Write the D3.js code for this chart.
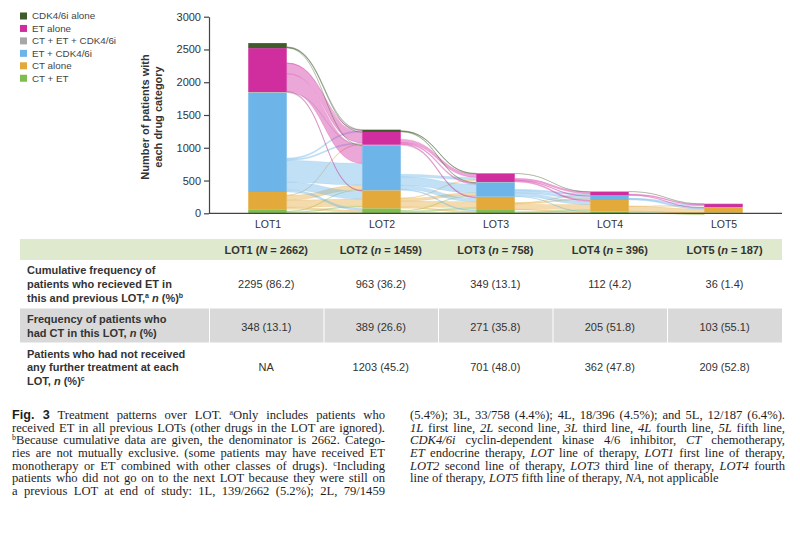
<!DOCTYPE html>
<html>
<head>
<meta charset="utf-8">
<script src="https://cdn.jsdelivr.net/npm/d3@7"></script>
<style>
  body { margin: 0; background: #fff; }
  #wrap { position: relative; width: 800px; height: 533px; overflow: hidden; }
  svg { position: absolute; left: 0; top: 0; }
  .cap { position: absolute; font-family: "Liberation Serif", "DejaVu Serif", serif; font-size: 12.6px;
         line-height: 12.55px; color: #1e1e1e; text-align: justify; text-align-last: justify; white-space: normal; }
  .cap.last { text-align-last: left; }
  .cap sup { font-size: 8px; vertical-align: baseline; position: relative; top: -4px; }
  .cap b { font-family: "Liberation Sans", Arial, sans-serif; }
</style>
</head>
<body>
<div id="wrap"></div>
<script>
// ---- data ----
const lots = ["LOT1", "LOT2", "LOT3", "LOT4", "LOT5"];
// stacking order, bottom -> top
const categories = ["CT + ET", "CT alone", "ET + CDK4/6i", "CT + ET + CDK4/6i", "ET alone", "CDK4/6i alone"];
const colors = ["#80bd4f", "#e4a93b", "#6db5e8", "#a7a7a7", "#d02e9f", "#3f5a2b"];

const ctEt      = [61, 76, 50, 25, 10];
const ctAlone   = [264, 275, 203, 178, 78];
const etCdk     = [1516, 687, 220, 66, 4];
const ctEtCdk   = [10, 8, 5, 3, 1];
const etAlone   = [670, 195, 127, 58, 48];
const cdkAlone  = [76, 35, 5, 2, 4];

// flows between consecutive LOTs: [from, to, patients]
const flows12 = [
  ["ET alone", "ET alone", 160], ["ET alone", "ET + CDK4/6i", 270], ["ET alone", "CT alone", 10], ["ET alone", "CDK4/6i alone", 5],
  ["ET + CDK4/6i", "ET + CDK4/6i", 330], ["ET + CDK4/6i", "CT alone", 120], ["ET + CDK4/6i", "ET alone", 20],
  ["ET + CDK4/6i", "CT + ET", 30], ["ET + CDK4/6i", "CDK4/6i alone", 20],
  ["CT alone", "CT alone", 110], ["CT alone", "ET + CDK4/6i", 70], ["CT alone", "CT + ET", 30], ["CT alone", "ET alone", 10],
  ["CT + ET", "CT alone", 15], ["CT + ET", "ET + CDK4/6i", 10], ["CT + ET", "CT + ET", 10],
  ["CDK4/6i alone", "CDK4/6i alone", 10], ["CDK4/6i alone", "ET + CDK4/6i", 7], ["CDK4/6i alone", "ET alone", 5],
  ["CT + ET + CDK4/6i", "CT alone", 3], ["CT + ET + CDK4/6i", "CT + ET + CDK4/6i", 3]
];
const flows23 = [
  ["ET alone", "ET alone", 50], ["ET alone", "ET + CDK4/6i", 20], ["ET alone", "CT alone", 15],
  ["ET + CDK4/6i", "ET + CDK4/6i", 130], ["ET + CDK4/6i", "ET alone", 40], ["ET + CDK4/6i", "CT alone", 60], ["ET + CDK4/6i", "CT + ET", 15],
  ["CT alone", "CT alone", 90], ["CT alone", "ET + CDK4/6i", 40], ["CT alone", "CT + ET", 20], ["CT alone", "ET alone", 10],
  ["CT + ET", "CT alone", 25], ["CT + ET", "CT + ET", 10], ["CT + ET", "ET + CDK4/6i", 10],
  ["CDK4/6i alone", "CDK4/6i alone", 3], ["CDK4/6i alone", "ET + CDK4/6i", 10], ["CDK4/6i alone", "ET alone", 5],
  ["CT + ET + CDK4/6i", "CT alone", 2]
];
const flows34 = [
  ["ET alone", "ET alone", 25], ["ET alone", "CT alone", 20], ["ET alone", "ET + CDK4/6i", 10],
  ["ET + CDK4/6i", "ET + CDK4/6i", 35], ["ET + CDK4/6i", "CT alone", 50], ["ET + CDK4/6i", "ET alone", 20], ["ET + CDK4/6i", "CT + ET", 8],
  ["CT alone", "CT alone", 80], ["CT alone", "ET + CDK4/6i", 15], ["CT alone", "CT + ET", 10], ["CT alone", "ET alone", 8],
  ["CT + ET", "CT alone", 20], ["CT + ET", "CT + ET", 5],
  ["CDK4/6i alone", "ET alone", 2]
];
const flows45 = [
  ["ET alone", "ET alone", 15], ["ET alone", "CT alone", 8],
  ["ET + CDK4/6i", "ET alone", 8], ["ET + CDK4/6i", "CT alone", 15], ["ET + CDK4/6i", "ET + CDK4/6i", 3],
  ["CT alone", "CT alone", 75], ["CT alone", "CT + ET", 6], ["CT alone", "ET alone", 5],
  ["CT + ET", "CT alone", 12], ["CT + ET", "CT + ET", 5],
  ["CDK4/6i alone", "CDK4/6i alone", 2]
];

const yTicks = [0, 500, 1000, 1500, 2000, 2500, 3000];
const yTitle = ["Number of patients with", "each drug category"];
const legendOrder = ["CDK4/6i alone", "ET alone", "CT + ET + CDK4/6i", "ET + CDK4/6i", "CT alone", "CT + ET"];

// table
const lotN = [["N", 2662], ["n", 1459], ["n", 758], ["n", 396], ["n", 187]];
const etCumulative = ["2295 (86.2)", "963 (36.2)", "349 (13.1)", "112 (4.2)", "36 (1.4)"];
const ctFrequency  = ["348 (13.1)", "389 (26.6)", "271 (35.8)", "205 (51.8)", "103 (55.1)"];
const noFurther    = ["NA", "1203 (45.2)", "701 (48.0)", "362 (47.8)", "209 (52.8)"];

// ---- chart ----
const W = 800, H = 533;
const sans = "'Liberation Sans', Arial, sans-serif";
const txt = "#333";

const wrap = d3.select("#wrap");
const svg = wrap.append("svg").attr("width", W).attr("height", H)
  .attr("font-family", sans);

const axisX0 = 209, axisX1 = 782;
const x = d3.scalePoint().domain(lots).range([267.5, 723.5]);
const barW = 38.5;
const y = d3.scaleLinear().domain([0, 3000]).range([213.3, 16.7]);

const seriesVals = [ctEt, ctAlone, etCdk, ctEtCdk, etAlone, cdkAlone];
const color = d3.scaleOrdinal().domain(categories).range(colors);

// node extents per lot
const nodes = lots.map((lot, i) => {
  let acc = 0;
  const m = {};
  categories.forEach((c, k) => {
    const v = seriesVals[k][i];
    m[c] = { y0: acc, y1: acc + v };
    acc += v;
  });
  return m;
});

// flows
const allFlows = [flows12, flows23, flows34, flows45];
const gFlow = svg.append("g");
allFlows.forEach((fl, i) => {
  const outPos = {}, inPos = {};
  categories.forEach(c => { outPos[c] = nodes[i][c].y0; inPos[c] = nodes[i + 1][c].y1; });
  const ci = c => categories.indexOf(c);
  // outgoing stacked from node bottom, by target order
  const bySrc = fl.slice().sort((a, b) => ci(a[0]) - ci(b[0]) || ci(a[1]) - ci(b[1]));
  const links = bySrc.map(f => {
    const s0 = outPos[f[0]]; outPos[f[0]] += f[2];
    return { src: f[0], tgt: f[1], v: f[2], s0, s1: s0 + f[2] };
  });
  // incoming stacked from node top, by source order (top first)
  links.slice().sort((a, b) => ci(b.src) - ci(a.src) || ci(b.tgt) - ci(a.tgt)).forEach(l => {
    l.t1 = inPos[l.tgt]; inPos[l.tgt] -= l.v; l.t0 = l.t1 - l.v;
  });
  const xs = x(lots[i]) + barW / 2, xt = x(lots[i + 1]) - barW / 2, xm = (xs + xt) / 2;
  links.forEach(l => {
    const p = d3.path();
    p.moveTo(xs, y(l.s1));
    p.bezierCurveTo(xm, y(l.s1), xm, y(l.t1), xt, y(l.t1));
    p.lineTo(xt, y(l.t0));
    p.bezierCurveTo(xm, y(l.t0), xm, y(l.s0), xs, y(l.s0));
    p.closePath();
    gFlow.append("path")
      .attr("d", p.toString())
      .attr("fill", color(l.src))
      .attr("fill-opacity", 0.42)
      .attr("stroke", color(l.src))
      .attr("stroke-opacity", 0.3)
      .attr("stroke-width", 0.6);
  });
});

// bars
const gBar = svg.append("g");
lots.forEach((lot, i) => {
  categories.forEach(c => {
    const n = nodes[i][c];
    if (n.y1 - n.y0 <= 0) return;
    gBar.append("rect")
      .attr("x", x(lot) - barW / 2)
      .attr("y", y(n.y1))
      .attr("width", barW)
      .attr("height", y(n.y0) - y(n.y1))
      .attr("fill", color(c));
  });
});

// axes
const gy = svg.append("g").attr("transform", `translate(${axisX0},0)`)
  .call(d3.axisLeft(y).tickValues(yTicks).tickFormat(d3.format("d")).tickSize(5).tickSizeOuter(0).tickPadding(3));
gy.select(".domain").attr("stroke", "#444").attr("stroke-width", 1.2);
gy.selectAll(".tick line").attr("stroke", "#444").attr("stroke-width", 1.2);
gy.selectAll(".tick text").attr("font-size", 11).attr("fill", txt).attr("font-family", sans);

svg.append("line").attr("x1", axisX0).attr("x2", axisX1).attr("y1", y(0)).attr("y2", y(0))
  .attr("stroke", "#444").attr("stroke-width", 1.2);
const gx = svg.append("g").attr("transform", `translate(0,${y(0)})`)
  .call(d3.axisBottom(x).tickSize(0).tickPadding(7));
gx.select(".domain").remove();
gx.selectAll(".tick text").attr("font-size", 10.5).attr("fill", txt).attr("font-family", sans);

const yt = svg.append("text")
  .attr("transform", `translate(149,${(y(0) + y(3000)) / 2 + 2}) rotate(-90)`)
  .attr("text-anchor", "middle").attr("font-size", 11).attr("font-weight", 700).attr("fill", txt);
yTitle.forEach((t, i) => yt.append("tspan").attr("x", 0).attr("dy", i ? 12.5 : 0).text(t));

// legend
const lg = svg.append("g").attr("transform", "translate(20,16)");
legendOrder.forEach((c, i) => {
  lg.append("rect").attr("x", 0).attr("y", i * 12.45 - 3.5).attr("width", 7).attr("height", 7).attr("fill", color(c));
  lg.append("text").attr("x", 12).attr("y", i * 12.45 + 3.4).attr("font-size", 9.8).attr("fill", "#444").text(c);
});

// ---- table ----
const tb = svg.append("g").attr("font-size", 11).attr("fill", txt);
const colEdges = [20, 209, 323.5, 438, 552.5, 667, 782];
const colCenter = i => (colEdges[i + 1] + colEdges[i + 2]) / 2;

tb.append("rect").attr("x", 20).attr("y", 239).attr("width", 762).attr("height", 21).attr("fill", "#dfe9cd");
lotN.forEach((d, i) => {
  const t = tb.append("text").attr("x", colCenter(i)).attr("y", 253.5).attr("text-anchor", "middle").attr("font-weight", 700);
  t.append("tspan").text(`${lots[i]} (`);
  t.append("tspan").attr("font-style", "italic").text(d[0]);
  t.append("tspan").text(` = ${d[1]})`);
});

// grey row
for (let i = 0; i < 6; i++) {
  tb.append("rect").attr("x", colEdges[i] + (i ? 1 : 0)).attr("y", 308.5)
    .attr("width", colEdges[i + 1] - colEdges[i] - (i ? 1 : 0)).attr("height", 34).attr("fill", "#d9d9d9");
}

function labelLine(yPos, parts) {
  const t = tb.append("text").attr("x", 27).attr("y", yPos).attr("font-weight", 700);
  parts.forEach(p => {
    const s = t.append("tspan").text(p.t);
    if (p.i) s.attr("font-style", "italic");
    if (p.sup) s.attr("font-size", 7).attr("dy", -4);
    if (p.down) s.attr("dy", 4);
  });
}
labelLine(274, [{ t: "Cumulative frequency of" }]);
labelLine(288, [{ t: "patients who recieved ET in" }]);
labelLine(301.5, [{ t: "this and previous LOT," }, { t: "a", sup: 1 }, { t: " " , down: 1 }, { t: "n", i: 1 }, { t: " (%)" }, { t: "b", sup: 1 }]);
labelLine(323, [{ t: "Frequency of patients who" }]);
labelLine(337, [{ t: "had CT in this LOT, " }, { t: "n", i: 1 }, { t: " (%)" }]);
labelLine(357.5, [{ t: "Patients who had not received" }]);
labelLine(371, [{ t: "any further treatment at each" }]);
labelLine(384.5, [{ t: "LOT, " }, { t: "n", i: 1 }, { t: " (%)" }, { t: "c", sup: 1 }]);

[[etCumulative, 288], [ctFrequency, 330.5], [noFurther, 370.5]].forEach(([vals, yy]) => {
  vals.forEach((v, i) => tb.append("text").attr("x", colCenter(i)).attr("y", yy).attr("text-anchor", "middle").text(v));
});

// ---- caption ----
const capLeft = [
  "<b>Fig. 3</b> Treatment patterns over LOT. <sup>a</sup>Only includes patients who",
  "received ET in all previous LOTs (other drugs in the LOT are ignored).",
  "<sup>b</sup>Because cumulative data are given, the denominator is 2662. Catego-",
  "ries are not mutually exclusive. (some patients may have received ET",
  "monotherapy or ET combined with other classes of drugs). <sup>c</sup>Including",
  "patients who did not go on to the next LOT because they were still on",
  "a previous LOT at end of study: 1L, 139/2662 (5.2%); 2L, 79/1459"
];
const capRight = [
  "(5.4%); 3L, 33/758 (4.4%); 4L, 18/396 (4.5%); and 5L, 12/187 (6.4%).",
  "<i>1L</i> first line, <i>2L</i> second line, <i>3L</i> third line, <i>4L</i> fourth line, <i>5L</i> fifth line,",
  "<i>CDK4/6i</i> cyclin-dependent kinase 4/6 inhibitor, <i>CT</i> chemotherapy,",
  "<i>ET</i> endocrine therapy, <i>LOT</i> line of therapy, <i>LOT1</i> first line of therapy,",
  "<i>LOT2</i> second line of therapy, <i>LOT3</i> third line of therapy, <i>LOT4</i> fourth",
  "line of therapy, <i>LOT5</i> fifth line of therapy, <i>NA</i>, not applicable"
];
[[capLeft, 12, 373], [capRight, 410, 375]].forEach(([lines, left, width], col) => {
  lines.forEach((l, i) => {
    wrap.append("div")
      .attr("class", "cap" + (col === 1 && i === lines.length - 1 ? " last" : ""))
      .style("left", left + "px").style("top", (409.3 + i * 12.55) + "px").style("width", width + "px")
      .html(l);
  });
});
</script>
</body>
</html>
